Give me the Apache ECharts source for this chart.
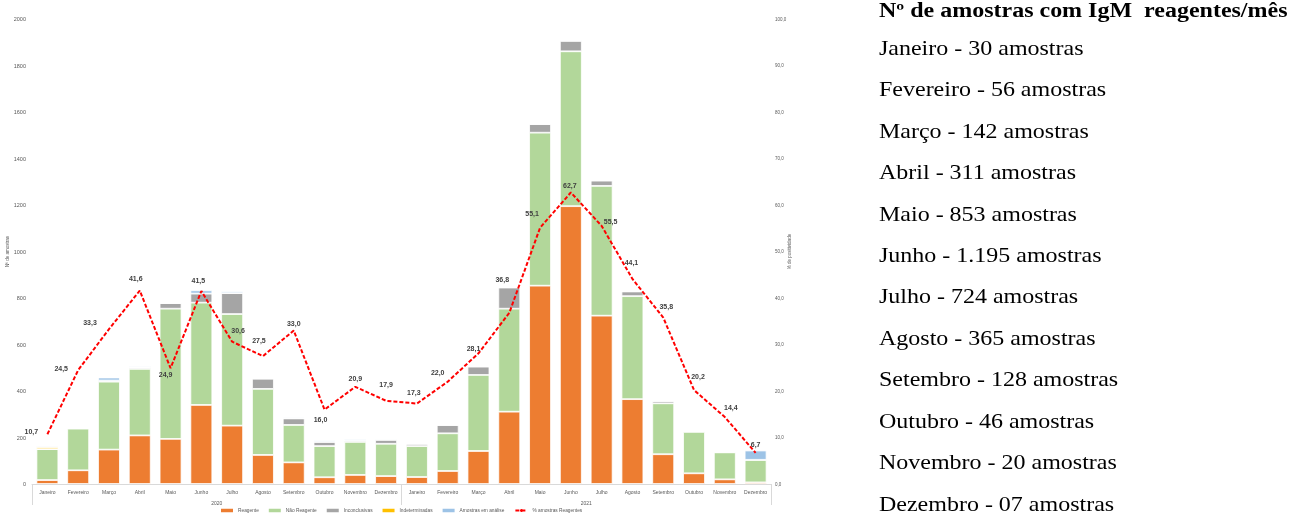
<!DOCTYPE html>
<html>
<head>
<meta charset="utf-8">
<title>Amostras IgM 2020-2021</title>
<script src="https://cdn.jsdelivr.net/npm/echarts@6/dist/echarts.min.js"></script>
<style>
  html, body { margin: 0; padding: 0; background: #ffffff; }
  #chart { width: 1299px; height: 517px; will-change: transform; }
</style>
</head>
<body>
<div id="chart"></div>
<script>
// Meses de cada ano e rótulos dos anos
const meses = ['Janeiro', 'Fevereiro', 'Março', 'Abril', 'Maio', 'Junho',
  'Julho', 'Agosto', 'Setembro', 'Outubro', 'Novembro', 'Dezembro'];
const anos = ['2020', '2021'];
const categorias = meses.concat(meses);

// Número de amostras por mês (jan/2020 a dez/2021)
const reagente = [17, 59, 148, 209, 194, 340, 251, 125, 93, 29, 39, 34,
  30, 56, 142, 311, 853, 1195, 724, 365, 128, 46, 20, 7];
const naoReagente = [133, 179, 292, 286, 560, 440, 480, 284, 161, 134, 142, 139,
  133, 162, 327, 443, 658, 666, 558, 443, 219, 178, 116, 97];
const inconclusivas = [0, 3, 5, 7, 24, 39, 90, 44, 28, 18, 6, 17,
  10, 36, 36, 91, 37, 45, 23, 20, 10, 4, 3, 0];
const indeterminadas = [8, 0, 0, 0, 0, 0, 0, 0, 0, 0, 0, 0,
  0, 0, 0, 0, 0, 0, 0, 0, 0, 0, 0, 0];
const emAnalise = [5, 0, 13, 5, 2, 14, 7, 3, 4, 6, 5, 4,
  0, 0, 3, 3, 3, 4, 2, 2, 2, 2, 1, 40];

// % de amostras reagentes por mês
const pctReagentes = [10.7, 24.5, 33.3, 41.6, 24.9, 41.5, 30.6, 27.5, 33.0, 16.0, 20.9, 17.9,
  17.3, 22.0, 28.1, 36.8, 55.1, 62.7, 55.5, 44.1, 35.8, 20.2, 14.4, 6.7];

// Marcas dos eixos
const ticksAmostras = { min: 0, max: 2000, interval: 200 };
const ticksPct = { min: 0, max: 100, interval: 10 };

// Deslocamento de cada rótulo percentual em relação ao ponto da linha
const deslocRotulos = [[-16, -3], [-17, -2], [-19, -7], [-4, -12], [-5, 6], [-3, -11],
  [6, -11], [-4, -16], [0, -7], [-4, 10], [0, -8], [0, -16],
  [-3, -11], [-10, -9], [-5, -5], [-7, -33], [-8, -14], [-1, -7],
  [9, -4], [-1, -16], [3, -11], [4, -14], [6, -10], [0, -8]];

const virgula = (v, casas) => v.toFixed(casas).replace('.', ',');
const formatoQtd = n => n >= 1000
  ? String(n).replace(/\B(?=(\d{3})+(?!\d))/g, '.')
  : (n < 10 ? '0' + n : String(n));

const corTexto = '#595959';
const corRotulo = '#404040';
const fonteGrafico = '"Liberation Sans", "DejaVu Sans", sans-serif';

const chart = echarts.init(document.getElementById('chart'), null, { renderer: 'svg' });

const barra = (nome, valores, cor) => ({
  name: nome,
  type: 'bar',
  stack: 'amostras',
  barWidth: '71%',
  data: valores,
  itemStyle: { color: cor, borderColor: '#ffffff', borderWidth: 0.8 },
  emphasis: { disabled: true }
});

// Painel de texto à direita: amostras reagentes por mês de 2021
const reag2021 = reagente.slice(12);
const fontePainel = '"Liberation Serif", "DejaVu Serif", serif';
const painel = [{
  type: 'text',
  left: 879,
  top: 0,
  scaleX: 1.2,
  style: {
    text: 'Nº de amostras com IgM  reagentes/mês',
    font: 'bold 20px ' + fontePainel,
    fill: '#000000'
  }
}].concat(meses.map((m, i) => ({
  type: 'text',
  left: 879,
  top: 38 + i * 41.45,
  scaleX: 1.2,
  style: {
    text: m + ' - ' + formatoQtd(reag2021[i]) + ' amostras',
    font: '20px ' + fontePainel,
    fill: '#000000'
  }
})));

chart.setOption({
  animation: false,
  textStyle: { fontFamily: fonteGrafico },
  grid: { left: 32, right: 528, top: 19, bottom: 33, containLabel: false, outerBoundsMode: 'none' },
  legend: {
    left: 221,
    top: 508,
    padding: 0,
    itemWidth: 12,
    itemHeight: 3.5,
    itemGap: 10,
    itemStyle: { borderWidth: 0 },
    textStyle: { color: corTexto, fontSize: 4.8 },
    data: [
      { name: 'Reagente', icon: 'rect' },
      { name: 'Não Reagente', icon: 'rect' },
      { name: 'Inconclusivas', icon: 'rect' },
      { name: 'Indeterminadas', icon: 'rect' },
      { name: 'Amostras em análise', icon: 'rect' },
      { name: '% amostras Reagentes' }
    ]
  },
  xAxis: [
    {
      type: 'category',
      data: categorias,
      position: 'bottom',
      axisLine: { lineStyle: { color: '#D9D9D9', width: 1 } },
      axisTick: { show: false },
      axisLabel: { color: corTexto, fontSize: 5, margin: 5, interval: 0 }
    },
    {
      type: 'category',
      data: anos,
      position: 'bottom',
      axisLine: { show: false },
      axisTick: { show: true, length: 21, lineStyle: { color: '#D9D9D9' } },
      axisLabel: { color: corTexto, fontSize: 5, margin: 16 }
    }
  ],
  yAxis: [
    {
      type: 'value',
      min: ticksAmostras.min,
      max: ticksAmostras.max,
      interval: ticksAmostras.interval,
      name: 'Nº de amostras',
      nameLocation: 'middle',
      nameGap: 22,
      nameMoveOverlap: false,
      nameTextStyle: { color: corTexto, fontSize: 4.5 },
      axisLine: { show: false },
      axisTick: { show: false },
      splitLine: { show: false },
      axisLabel: { color: corTexto, fontSize: 5.5, margin: 6, formatter: v => String(v) }
    },
    {
      type: 'value',
      min: ticksPct.min,
      max: ticksPct.max,
      interval: ticksPct.interval,
      position: 'right',
      name: '% de positividade',
      nameLocation: 'middle',
      nameGap: 16,
      nameMoveOverlap: false,
      nameRotate: 90,
      nameTextStyle: { color: corTexto, fontSize: 4.5 },
      axisLine: { show: false },
      axisTick: { show: false },
      splitLine: { show: false },
      axisLabel: { color: corTexto, fontSize: 4.5, margin: 4, formatter: v => virgula(v, 1) }
    }
  ],
  series: [
    barra('Reagente', reagente, '#ED7D31'),
    barra('Não Reagente', naoReagente, '#B2D79A'),
    barra('Inconclusivas', inconclusivas, '#A5A5A5'),
    barra('Indeterminadas', indeterminadas, '#FFC000'),
    barra('Amostras em análise', emAnalise, '#9DC3E6'),
    {
      name: '% amostras Reagentes',
      type: 'line',
      yAxisIndex: 1,
      z: 5,
      symbol: 'circle',
      symbolSize: 0.1,
      showSymbol: true,
      data: pctReagentes.map((v, i) => ({
        value: v,
        label: { offset: deslocRotulos[i], color: corRotulo }
      })),
      lineStyle: { color: '#FF0000', width: 2, type: [4, 2] },
      itemStyle: { color: '#FF0000' },
      label: {
        show: true,
        position: 'inside',
        color: corRotulo,
        textBorderWidth: 0,
        fontWeight: 'bold',
        fontSize: 7,
        formatter: p => virgula(p.value, 1)
      },
      emphasis: { disabled: true }
    }
  ],
  graphic: painel
});
</script>
</body>
</html>
